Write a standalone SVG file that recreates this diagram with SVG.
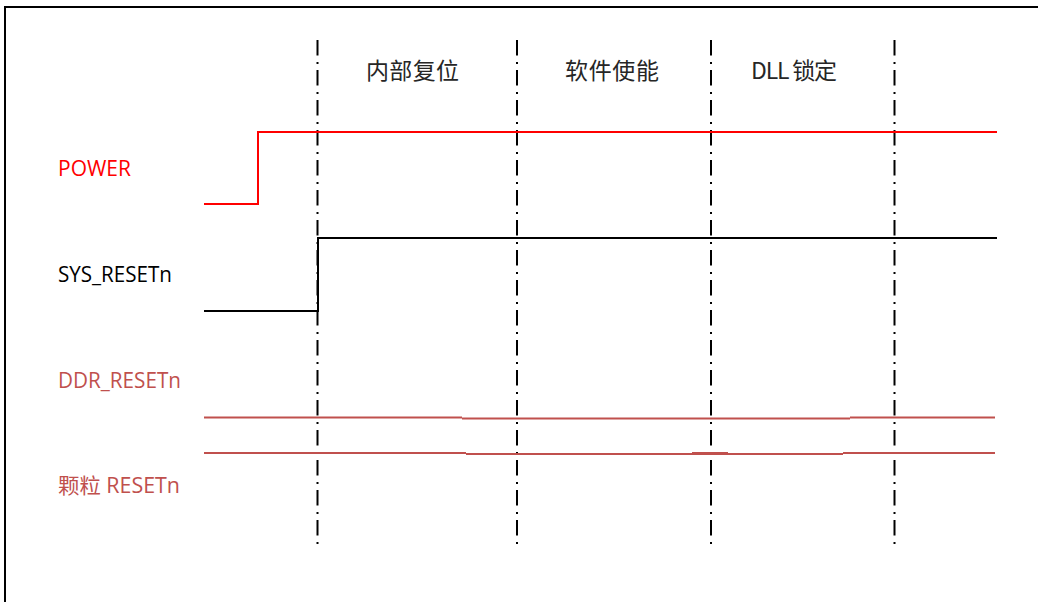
<svg xmlns="http://www.w3.org/2000/svg" width="1038" height="602" viewBox="0 0 1038 602">
<style>
.lbl{font-family:"Open Sans","Noto Sans CJK SC",sans-serif;font-size:21px}
.hdr{font-family:"Noto Sans CJK SC","Open Sans",sans-serif;font-size:23px;fill:#262626}
.div{stroke:#000;stroke-width:2;stroke-dasharray:15.5 6.5 2 6;fill:none}
.sig{fill:none;stroke-width:2}
</style>
<rect width="1038" height="602" fill="#fff"/>
<path d="M5,602 V7 H1038" fill="none" stroke="#000" stroke-width="2"/>
<g id="dividers">
<line class="div" x1="317.5" y1="40" x2="317.5" y2="546"/>
<line class="div" x1="517" y1="40" x2="517" y2="546"/>
<line class="div" x1="711" y1="40" x2="711" y2="546"/>
<line class="div" x1="894.5" y1="40" x2="894.5" y2="546"/>
</g>
<g id="headers">
<text class="hdr" x="366" y="79" textLength="93">内部复位</text>
<text class="hdr" x="565" y="79" textLength="94">软件使能</text>
<text class="hdr" x="751" y="79" textLength="86">DLL 锁定</text>
</g>
<g id="power">
<text class="lbl" x="58" y="176" fill="#ff0000" textLength="73" lengthAdjust="spacingAndGlyphs">POWER</text>
<path class="sig" stroke="#ff0000" d="M204,204 H258 V132 H997"/>
</g>
<g id="sys_resetn">
<text class="lbl" x="58" y="282" fill="#000" textLength="114" lengthAdjust="spacingAndGlyphs">SYS_RESETn</text>
<path class="sig" stroke="#000" d="M204,311 H318 V238 H997"/>
</g>
<g id="ddr_resetn">
<text class="lbl" x="58" y="388" fill="#c0504d" textLength="123" lengthAdjust="spacingAndGlyphs">DDR_RESETn</text>
<path class="sig" stroke="#c0504d" d="M204,417.5 H462 M462,418.5 H850 M850,417.5 H995"/>
</g>
<g id="chip_resetn">
<text class="lbl" x="58" y="493" fill="#c0504d" textLength="122" lengthAdjust="spacingAndGlyphs">颗粒 RESETn</text>
<path class="sig" stroke="#c0504d" d="M204,453 H466 M466,454 H843 M692,453 H728 M843,453 H995"/>
</g>
</svg>
